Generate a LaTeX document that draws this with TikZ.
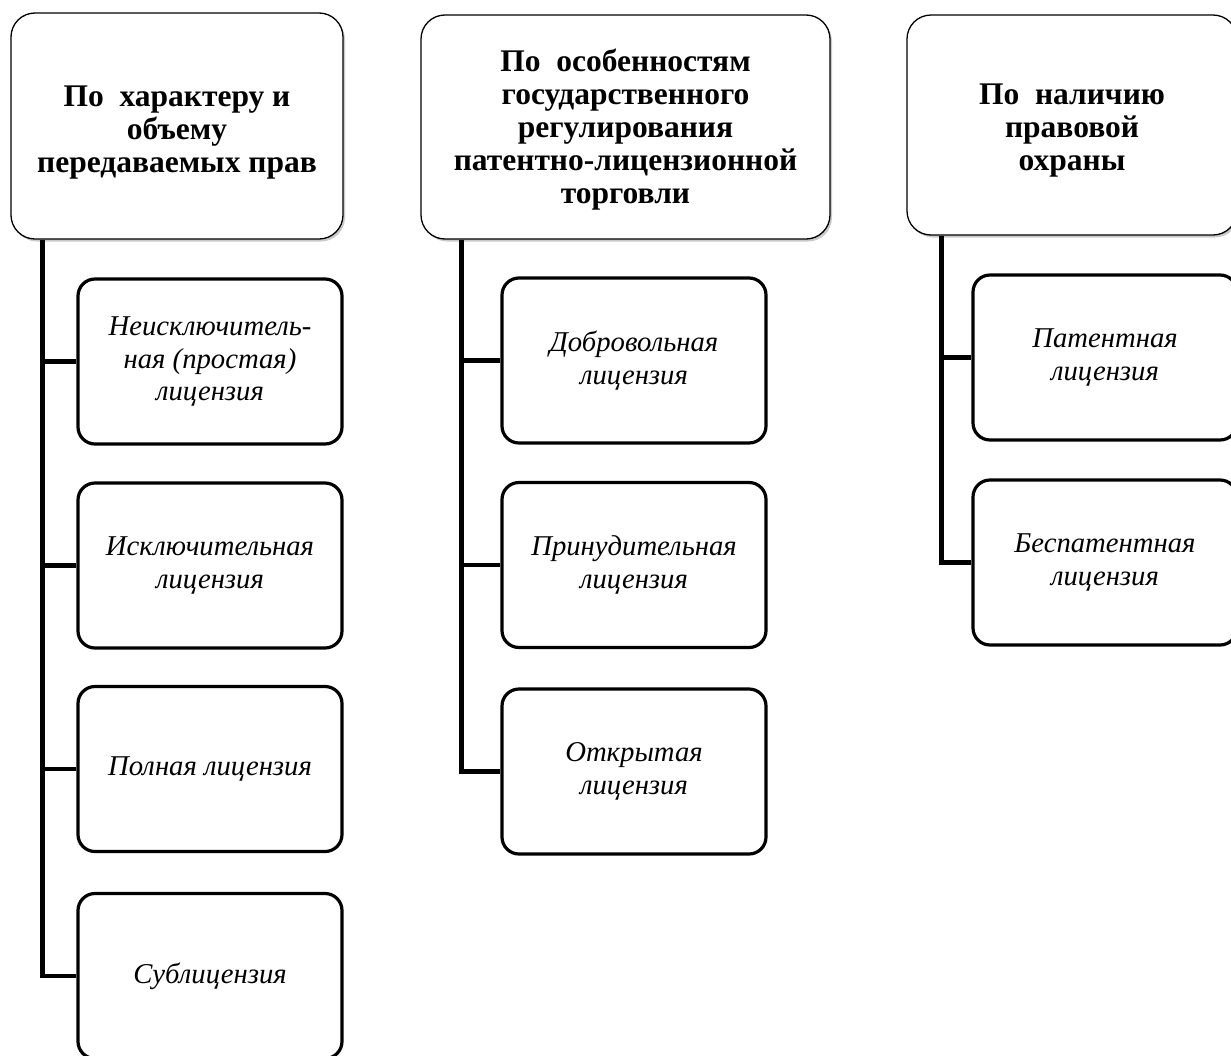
\documentclass[tikz,border=0pt]{standalone}
\usepackage{fontspec}
\setmainfont{Liberation Serif}
\usetikzlibrary{shadows}
\tikzset{
  head/.style={draw=black, line width=1.3pt, rounded corners=24pt, fill=white, align=center,
    font=\fontsize{31.5}{33}\selectfont\bfseries,
    drop shadow={shadow xshift=2pt, shadow yshift=-2.5pt, opacity=0.35, fill=black!60}},
  leaf/.style={draw=black, line width=3.2pt, rounded corners=17pt, fill=white, align=center,
    minimum width=264pt, minimum height=165pt, inner sep=0pt,
    font=\fontsize{28.7}{32.5}\selectfont\itshape},
  conn/.style={draw=black, line width=4.5pt}
}
\begin{document}
\begin{tikzpicture}[x=1pt,y=-1pt]
\useasboundingbox (0,0) rectangle (1231,1055);
% headers
\node[head, minimum width=332pt, minimum height=226pt] (h1) at (177,126)
  {\rule{0pt}{33pt}По\ \ характеру и\\объему\\передаваемых прав};
\node[head, minimum width=409pt, minimum height=224pt] (h2) at (625.5,127)
  {\rule{0pt}{28pt}По\ \ особенностям\\государственного\\регулирования\\патентно-лицензионной\\торговли};
\node[head, minimum width=330pt, minimum height=220pt] (h3) at (1072,125)
  {\rule{0pt}{31pt}По\ \ наличию\\правовой\\охраны};
% column 1
\node[leaf] (c11) at (210,361.5) {Неисключитель-\\ная (простая)\\лицензия};
\node[leaf] (c12) at (210,565.5) {Исключительная\\лицензия};
\node[leaf] (c13) at (210,769) {Полная лицензия};
\node[leaf] (c14) at (210,976) {Сублицензия};
% column 2
\node[leaf] (c21) at (634,360.5) {Добровольная\\лицензия};
\node[leaf] (c22) at (634,565) {Принудительная\\лицензия};
\node[leaf] (c23) at (634,771.5) {Открытая\\лицензия};
% column 3
\node[leaf] (c31) at (1105,357.5) {Патентная\\лицензия};
\node[leaf] (c32) at (1105,562.5) {Беспатентная\\лицензия};
% connectors
\coordinate (s1) at ([xshift=32pt]h1.south west);
\coordinate (s2) at ([xshift=41pt]h2.south west);
\coordinate (s3) at ([xshift=35pt]h3.south west);
\draw[conn] (s1) |- (c14.west);
\draw[conn] (s1 |- c11.west) -- (c11.west);
\draw[conn] (s1 |- c12.west) -- (c12.west);
\draw[conn] (s1 |- c13.west) -- (c13.west);
\draw[conn] (s2) |- (c23.west);
\draw[conn] (s2 |- c21.west) -- (c21.west);
\draw[conn] (s2 |- c22.west) -- (c22.west);
\draw[conn] (s3) |- (c32.west);
\draw[conn] (s3 |- c31.west) -- (c31.west);
\end{tikzpicture}
\end{document}
